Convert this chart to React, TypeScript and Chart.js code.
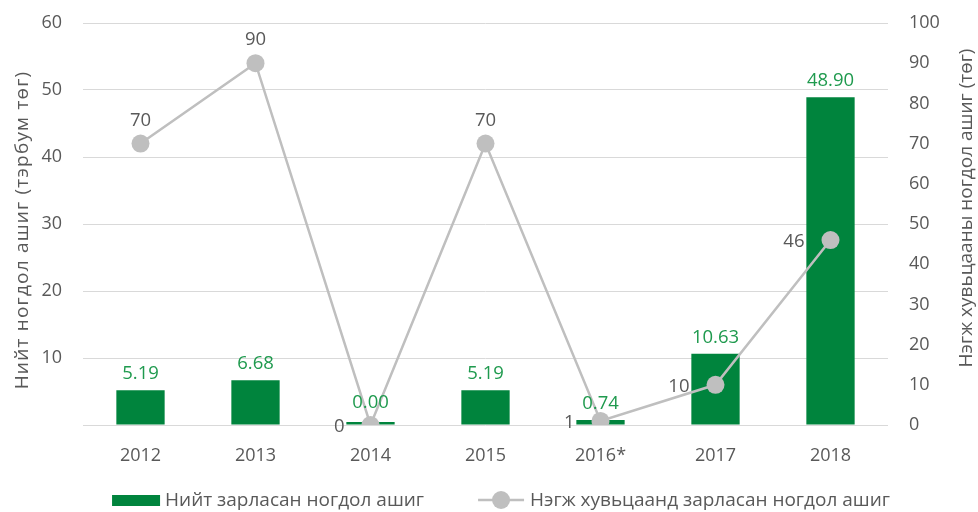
import React, { useEffect, useRef } from 'react';
import { Chart, registerables } from 'chart.js';

Chart.register(...registerables);

const categories = ['2012', '2013', '2014', '2015', '2016*', '2017', '2018'];
const totalDividend = [5.19, 6.68, 0.0, 5.19, 0.74, 10.63, 48.9];
const perShareDividend = [70, 90, 0, 70, 1, 10, 46];
const perShareLabelSide = ['top', 'top', 'left', 'top', 'left', 'left', 'left'];

const totalLabel = 'Нийт зарласан ногдол ашиг';
const perShareLabel = 'Нэгж хувьцаанд зарласан ногдол ашиг';
const leftTitle = 'Нийт ногдол ашиг (тэрбум төг)';
const rightTitle = 'Нэгж хувьцааны ногдол ашиг (төг)';

const FONT = '"Open Sans", "Noto Sans", sans-serif';
const GREEN = '#00843D';
const GREEN_TEXT = '#1F9A4E';
const GREY = '#BFBFBF';
const TEXT = '#595959';

const valueLabels = {
  id: 'valueLabels',
  afterDatasetsDraw(chart: any) {
    const ctx = chart.ctx;
    ctx.save();
    ctx.font = `18.5px ${FONT}`;
    ctx.textBaseline = 'alphabetic';
    const barMeta = chart.getDatasetMeta(0);
    ctx.fillStyle = GREEN_TEXT;
    ctx.textAlign = 'center';
    barMeta.data.forEach((el: any, i: number) => {
      const off = totalDividend[i] === 0 ? 14 : 11;
      ctx.fillText(totalDividend[i].toFixed(2), el.x, el.y - off);
    });
    const lineMeta = chart.getDatasetMeta(1);
    ctx.fillStyle = TEXT;
    lineMeta.data.forEach((el: any, i: number) => {
      const txt = String(perShareDividend[i]);
      if (perShareLabelSide[i] === 'top') {
        ctx.textAlign = 'center';
        ctx.fillText(txt, el.x, el.y - 18);
      } else {
        ctx.textAlign = 'right';
        ctx.fillText(txt, el.x - 26, el.y + 7);
      }
    });
    ctx.restore();
  },
  afterDraw(chart: any) {
    const ctx = chart.ctx;
    const area = chart.chartArea;
    ctx.save();
    // axis titles (both read bottom-to-top)
    ctx.fillStyle = TEXT;
    ctx.textAlign = 'center';
    ctx.textBaseline = 'alphabetic';
    ctx.save();
    ctx.font = `19px ${FONT}`;
    (ctx as any).letterSpacing = '1.2px';
    ctx.translate(28, (area.top + area.bottom) / 2 + 6);
    ctx.rotate(-Math.PI / 2);
    ctx.fillText(leftTitle, 0, 0);
    ctx.restore();
    ctx.save();
    ctx.font = `19px ${FONT}`;
    ctx.translate(972, (area.top + area.bottom) / 2 - 16);
    ctx.rotate(-Math.PI / 2);
    ctx.fillText(rightTitle, 0, 0);
    ctx.restore();

    // legend
    ctx.font = `19px ${FONT}`;
    ctx.textBaseline = 'middle';
    ctx.textAlign = 'left';
    const w1 = ctx.measureText(totalLabel).width;
    const w2 = ctx.measureText(perShareLabel).width;
    const total = 48 + 5 + w1 + 54 + 46 + 6 + w2;
    let x = chart.width / 2 + 12 - total / 2;
    const y = 500;
    ctx.fillStyle = GREEN;
    ctx.fillRect(x, y - 5, 48, 11);
    x += 53;
    ctx.fillStyle = TEXT;
    ctx.fillText(totalLabel, x, y + 1);
    x += w1 + 54;
    ctx.strokeStyle = GREY;
    ctx.lineWidth = 2.5;
    ctx.beginPath();
    ctx.moveTo(x, y);
    ctx.lineTo(x + 46, y);
    ctx.stroke();
    ctx.fillStyle = GREY;
    ctx.beginPath();
    ctx.arc(x + 23, y, 9, 0, Math.PI * 2);
    ctx.fill();
    x += 52;
    ctx.fillStyle = TEXT;
    ctx.fillText(perShareLabel, x, y + 1);
    ctx.restore();
  },
};

export default function App() {
  const ref = useRef<HTMLCanvasElement | null>(null);
  useEffect(() => {
    if (!ref.current) return;
    const chart = new Chart(ref.current, {
      type: 'bar',
      data: {
        labels: categories,
        datasets: [
          {
            type: 'bar',
            label: totalLabel,
            data: totalDividend,
            backgroundColor: GREEN,
            yAxisID: 'y',
            order: 1,
            barPercentage: 0.42,
            categoryPercentage: 1,
            minBarLength: 3,
          },
          {
            type: 'line',
            label: perShareLabel,
            data: perShareDividend,
            borderColor: GREY,
            backgroundColor: GREY,
            borderWidth: 2.5,
            pointRadius: 9,
            pointBackgroundColor: GREY,
            pointBorderColor: GREY,
            pointBorderWidth: 0,
            yAxisID: 'y1',
            order: 0,
            tension: 0,
          },
        ] as any,
      },
      options: {
        responsive: false,
        animation: false,
        layout: { padding: { top: 23, bottom: 37, left: 0, right: 0 } },
        plugins: {
          legend: { display: false },
          tooltip: { enabled: false },
        },
        scales: {
          x: {
            grid: { display: false, drawTicks: false },
            border: { display: false },
            ticks: { color: TEXT, font: { family: FONT, size: 18 }, padding: 20 },
            afterFit: (s: any) => { s.height = 50; s.paddingLeft = 0; s.paddingRight = 0; },
          },
          y: {
            position: 'left',
            min: 0,
            max: 60,
            grid: { color: '#D9D9D9', lineWidth: 1, drawTicks: false },
            border: { display: false },
            ticks: {
              stepSize: 10,
              color: TEXT,
              padding: 21,
              font: { family: FONT, size: 18 },
              callback: (v: any) => (v === 0 ? '' : String(v)),
            },
            afterFit: (s: any) => { s.width = 83; s.paddingTop = 0; s.paddingBottom = 0; },
          },
          y1: {
            position: 'right',
            min: 0,
            max: 100,
            grid: { display: false, drawTicks: false },
            border: { display: false },
            ticks: {
              stepSize: 10,
              color: TEXT,
              padding: 21,
              font: { family: FONT, size: 18 },
            },
            afterFit: (s: any) => { s.width = 90; s.paddingTop = 0; s.paddingBottom = 0; },
          },
        },
      } as any,
      plugins: [valueLabels],
    });
    return () => chart.destroy();
  }, []);
  return (
    <div style={{ position: 'fixed', left: 0, top: 0, width: 978, height: 512, background: '#fff' }}>
      <canvas ref={ref} width={978} height={512} />
    </div>
  );
}
